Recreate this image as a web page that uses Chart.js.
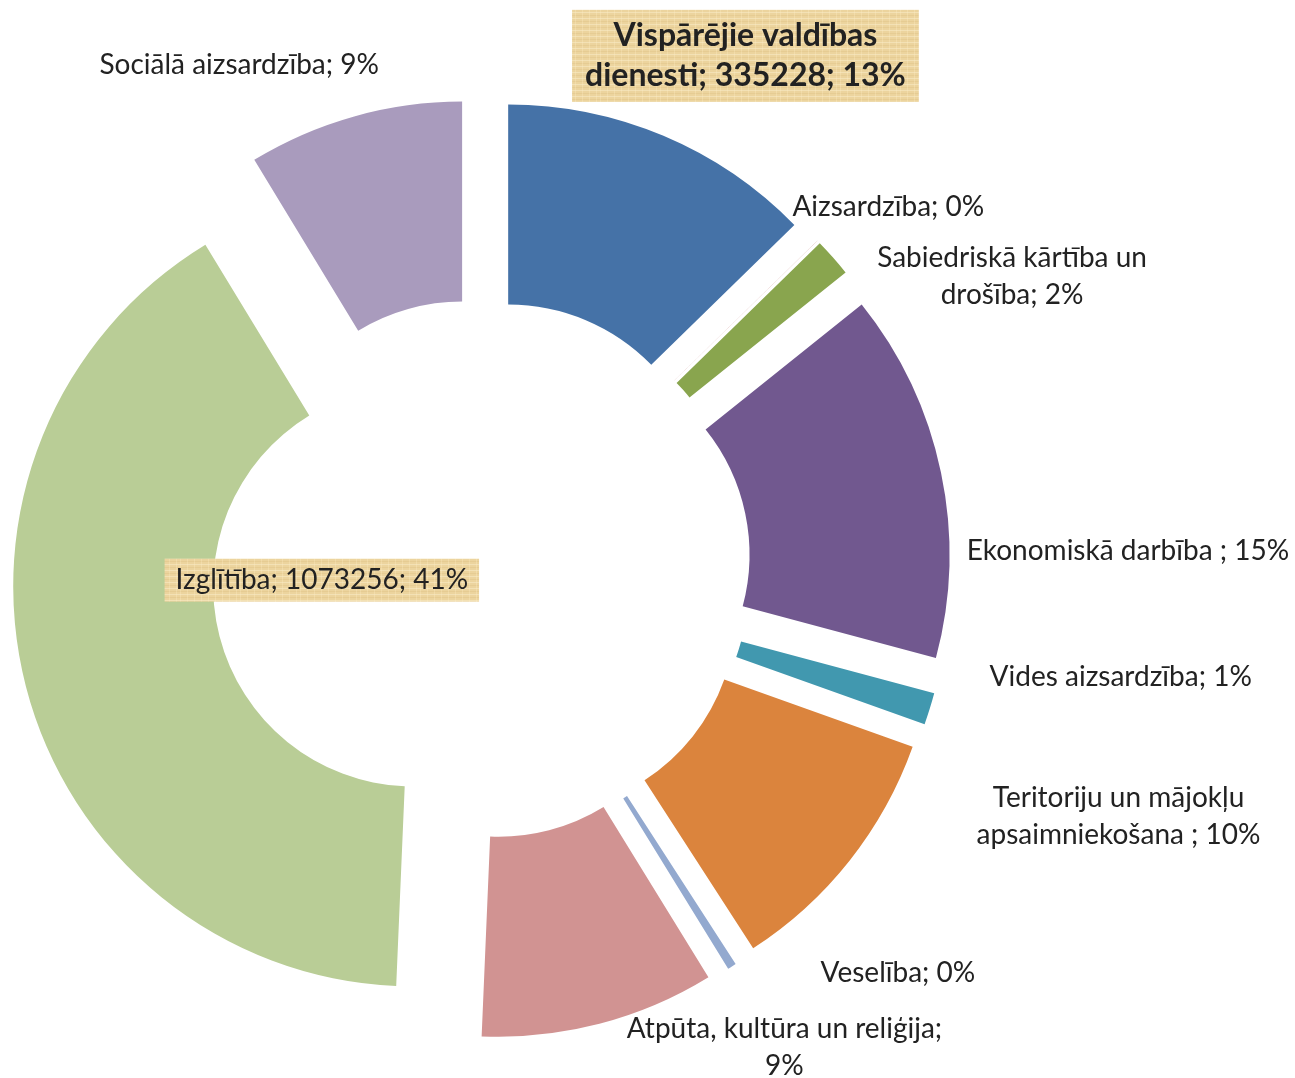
<!DOCTYPE html>
<html>
<head>
<meta charset="utf-8">
<script src="https://cdn.jsdelivr.net/npm/chart.js@4"></script>
<style>
  html, body { margin: 0; padding: 0; background: #fff; }
  canvas { display: block; }
</style>
</head>
<body>
<canvas id="chart" width="1295" height="1078"></canvas>
<script>
// budget by function (thousands), clockwise from top
var categories = [
  'Vispārējie valdības dienesti',
  'Aizsardzība',
  'Sabiedriskā kārtība un drošība',
  'Ekonomiskā darbība ',
  'Vides aizsardzība',
  'Teritoriju un mājokļu apsaimniekošana ',
  'Veselība',
  'Atpūta, kultūra un reliģija',
  'Izglītība',
  'Sociālā aizsardzība'
];
var values = [335228, 200, 41000, 394000, 34000, 275000, 9300, 250000, 1073256, 229716];
var colors = ['#4572A7', '#AA4643', '#89A54E', '#71588F', '#4198AF', '#DB843D', '#93A9CF', '#D19392', '#B9CD96', '#A99BBD'];
var showValue = [true, false, false, false, false, false, false, false, true, false];

// label layout: shift from the slice's outer mid point, box padding for highlighted ones
var labelShift = [[82, -80], [71, -34], [179, 19], [187, 79], [191, -32], [269, -44], [166, 7], [185, 24], [296, -106], [-115, -51]];
var boxPad = {0: [13, 6], 8: [11, 3]};

var FONT = 'Lato, "Open Sans", sans-serif';
var fontSize = 28;
var lineH = 37;
var wrapWidth = 335;
var EXPLODE = 70; // px each slice is pulled out from the centre

function parchment(ctx) {
  var c = document.createElement('canvas');
  c.width = 60; c.height = 24;
  var g = c.getContext('2d');
  g.fillStyle = '#ECD49E';
  g.fillRect(0, 0, 60, 24);
  for (var y = 0; y < 24; y += 3) {
    g.fillStyle = (y % 6 === 0) ? 'rgba(255,245,215,0.4)' : 'rgba(210,178,115,0.25)';
    g.fillRect(0, y, 60, 1);
  }
  for (var x = 0; x < 60; x += 7) {
    g.fillStyle = 'rgba(255,240,200,0.3)';
    g.fillRect(x, 0, 1, 24);
  }
  return ctx.createPattern(c, 'repeat');
}

function wrap(ctx, text, maxW) {
  var words = text.split(' ');
  var lines = [];
  var cur = '';
  words.forEach(function(w) {
    var test = cur ? cur + ' ' + w : w;
    if (cur && ctx.measureText(test).width > maxW) {
      lines.push(cur);
      cur = w;
    } else {
      cur = test;
    }
  });
  if (cur) lines.push(cur);
  return lines;
}

var total = values.reduce(function(a, b) { return a + b; }, 0);

// pull every arc straight out along its bisector (plain translation, like Excel's explosion)
var explodeSlices = {
  id: 'explodeSlices',
  afterUpdate: function(chart) {
    chart.getDatasetMeta(0).data.forEach(function(arc) {
      var mid = (arc.startAngle + arc.endAngle) / 2;
      arc.x += Math.cos(mid) * EXPLODE;
      arc.y += Math.sin(mid) * EXPLODE;
    });
  }
};

var sliceLabels = {
  id: 'sliceLabels',
  afterDatasetsDraw: function(chart) {
    var ctx = chart.ctx;
    var meta = chart.getDatasetMeta(0);
    meta.data.forEach(function(arc, i) {
      var p = arc.getProps(['x', 'y', 'startAngle', 'endAngle', 'outerRadius'], true);
      var mid = (p.startAngle + p.endAngle) / 2;
      var ax = p.x + Math.cos(mid) * p.outerRadius + labelShift[i][0];
      var ay = p.y + Math.sin(mid) * p.outerRadius + labelShift[i][1];

      var pct = Math.round(values[i] / total * 100);
      var text = categories[i] + '; ' + (showValue[i] ? values[i] + '; ' : '') + pct + '%';
      var big = i === 0;
      var lh = big ? 40 : lineH;

      ctx.save();
      ctx.font = big ? 'bold 32px ' + FONT : fontSize + 'px ' + FONT;
      var lines = wrap(ctx, text, wrapWidth);
      var widest = Math.max.apply(null, lines.map(function(l) { return ctx.measureText(l).width; }));
      var h = lines.length * lh;

      if (boxPad[i]) {
        var px = boxPad[i][0], py = boxPad[i][1];
        ctx.fillStyle = parchment(ctx);
        ctx.fillRect(ax - widest / 2 - px, ay - h / 2 - py, widest + px * 2, h + py * 2);
      }

      ctx.fillStyle = '#222';
      ctx.textAlign = 'center';
      ctx.textBaseline = 'middle';
      lines.forEach(function(l, k) {
        ctx.fillText(l, ax, ay - h / 2 + lh * (k + 0.5));
      });
      ctx.restore();
    });
  }
};

new Chart(document.getElementById('chart'), {
  type: 'doughnut',
  data: {
    labels: categories,
    datasets: [{
      data: values,
      backgroundColor: colors,
      borderWidth: 0
    }]
  },
  options: {
    responsive: false,
    animation: false,
    radius: 400,
    cutout: '50%',
    layout: { padding: { left: 0, right: 333, top: 60, bottom: 0 } },
    plugins: {
      legend: { display: false },
      tooltip: { enabled: false }
    }
  },
  plugins: [explodeSlices, sliceLabels]
});
</script>
</body>
</html>
